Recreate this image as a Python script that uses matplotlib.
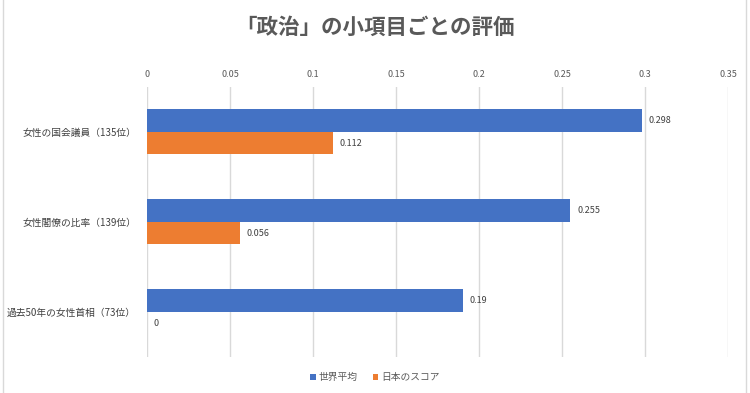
import matplotlib
matplotlib.use("Agg")
import matplotlib.pyplot as plt
import numpy as np

plt.rcParams['font.family'] = ['Noto Sans CJK JP', 'DejaVu Sans']

title = "「政治」の小項目ごとの評価"
categories = ["女性の国会議員（135位）", "女性閣僚の比率（139位）", "過去50年の女性首相（73位）"]
series_names = ["世界平均", "日本のスコア"]
world_avg = [0.298, 0.255, 0.19]
japan = [0.112, 0.056, 0]
xticks = [0, 0.05, 0.1, 0.15, 0.2, 0.25, 0.3, 0.35]
xtick_labels = ["0", "0.05", "0.1", "0.15", "0.2", "0.25", "0.3", "0.35"]

blue = "#4472C4"
orange = "#ED7D31"
txt = "#404040"

fig = plt.figure(figsize=(7.5, 3.93), dpi=100)
ax = fig.add_axes([0.196, 0.092, 0.775, 0.687])

y = np.arange(len(categories))
h = 0.25
ax.barh(y - h / 2, world_avg, height=h, color=blue, label=series_names[0], zorder=3)
ax.barh(y + h / 2, japan, height=h, color=orange, label=series_names[1], zorder=3)

for yi, v in zip(y, world_avg):
    ax.text(v + 0.004, yi - h / 2, f"{v:g}", va="center", ha="left", fontsize=6.5, color=txt)
for yi, v in zip(y, japan):
    ax.text(v + 0.004, yi + h / 2, f"{v:g}", va="center", ha="left", fontsize=6.5, color=txt)

ax.set_xlim(0, 0.35)
ax.set_ylim(len(categories) - 0.5, -0.5)
ax.set_xticks(xticks)
ax.set_xticklabels(xtick_labels)
ax.xaxis.tick_top()
ax.tick_params(axis="x", length=0, labelsize=6.5, labelcolor="#595959", pad=6)
ax.set_yticks(y)
ax.set_yticklabels(categories)
ax.tick_params(axis="y", length=0, labelsize=7, labelcolor=txt, pad=8)
ax.grid(axis="x", color="#d9d9d9", linewidth=1, zorder=0)
for s in ax.spines.values():
    s.set_visible(False)

fig.text(0.5, 0.93, title, ha="center", va="center", fontsize=15.5, fontweight="bold", color="#595959")

leg = fig.legend(loc="center", bbox_to_anchor=(0.5, 0.04), ncol=2, frameon=False,
                 fontsize=7, handlelength=0.6, handleheight=0.6, handletextpad=0.3,
                 columnspacing=1.5, labelcolor="#595959")

# chart border lines
fig.add_artist(plt.Line2D([0.994, 0.994], [0, 1], color="#d9d9d9", linewidth=1, transform=fig.transFigure))
fig.add_artist(plt.Line2D([0.004, 0.004], [0, 1], color="#d9d9d9", linewidth=1, transform=fig.transFigure))

fig.savefig("out.png", dpi=100)
